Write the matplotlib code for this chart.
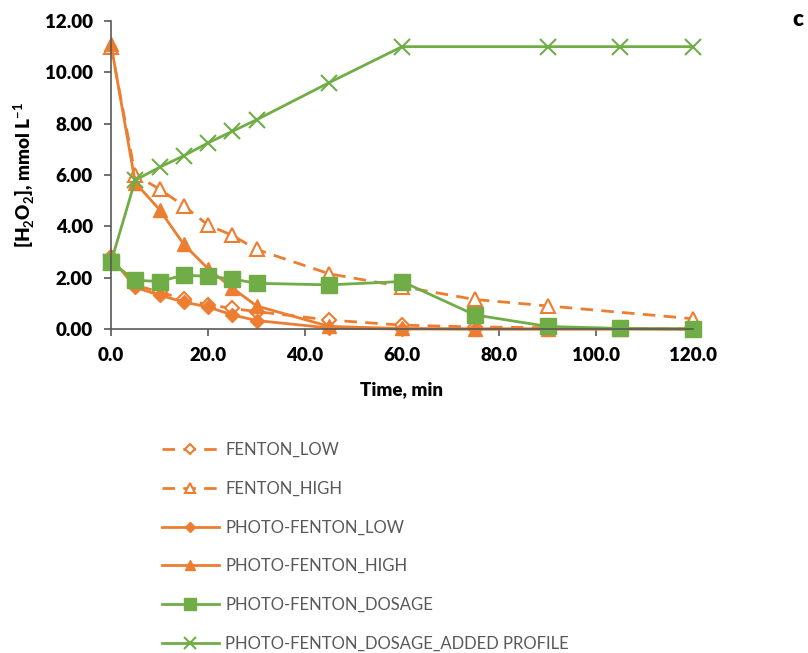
import matplotlib
matplotlib.use("Agg")
import matplotlib.pyplot as plt
import numpy as np

plt.rcParams['font.family'] = ['Lato', 'DejaVu Sans']
plt.rcParams['mathtext.fontset'] = 'custom'
plt.rcParams['mathtext.rm'] = 'Lato'
plt.rcParams['mathtext.bf'] = 'Lato:bold'

# time points, min
t_all = [0, 5, 10, 15, 20, 25, 30, 45, 60, 75, 90, 105, 120]
t_fh = [0, 5, 10, 15, 20, 25, 30, 45, 60, 75, 90, 120]
t_add = [0, 5, 10, 15, 20, 25, 30, 45, 60, 90, 105, 120]

fenton_low = [2.8, 1.7, 1.45, 1.15, 0.95, 0.8, 0.68, 0.35, 0.15, 0.08, 0.05, 0.02, 0.0]
fenton_high = [11.0, 6.0, 5.45, 4.8, 4.05, 3.65, 3.1, 2.15, 1.65, 1.15, 0.9, 0.4]
pf_low = [2.8, 1.62, 1.32, 1.05, 0.86, 0.55, 0.33, 0.04, 0.0, 0.0, 0.0, 0.0, 0.0]
pf_high = [11.1, 5.7, 4.65, 3.3, 2.35, 1.6, 0.9, 0.1, 0.02, 0.0, 0.0, 0.0, 0.0]
pf_dosage = [2.6, 1.9, 1.85, 2.1, 2.05, 1.95, 1.78, 1.72, 1.85, 0.55, 0.1, 0.02, 0.0]
pf_added = [2.6, 5.8, 6.3, 6.75, 7.25, 7.7, 8.15, 9.6, 11.0, 11.0, 11.0, 11.0]

orange = "#ED7D31"
green = "#70AD47"

fig = plt.figure(figsize=(8.08, 6.53), dpi=100)
ax = fig.add_axes([111/808, 1-329/653, (693-111)/808, (329-21)/653])

lw = 2.0
dash = (0, (4.5, 3))
ax.plot(t_all, fenton_low, color=orange, lw=lw, ls=dash, marker="D", ms=7,
        mfc="white", mec=orange, mew=1.5, label="FENTON_LOW", clip_on=False)
ax.plot(t_fh, fenton_high, color=orange, lw=lw, ls=dash, marker="^", ms=10,
        mfc="white", mec=orange, mew=1.5, label="FENTON_HIGH", clip_on=False)
ax.plot(t_all, pf_low, color=orange, lw=lw, marker="D", ms=7,
        label="PHOTO-FENTON_LOW", clip_on=False)
ax.plot(t_all, pf_high, color=orange, lw=lw, marker="^", ms=10,
        label="PHOTO-FENTON_HIGH", clip_on=False)
ax.plot(t_all, pf_dosage, color=green, lw=lw, marker="s", ms=11,
        label="PHOTO-FENTON_DOSAGE", clip_on=False)
ax.plot(t_add, pf_added, color=green, lw=lw, marker="x", ms=11, mew=1.5,
        label="PHOTO-FENTON_DOSAGE_ADDED PROFILE", clip_on=False)

ax.set_xlim(0, 120)
ax.set_ylim(0, 12)
ax.set_xticks(np.arange(0, 121, 20))
ax.set_yticks(np.arange(0, 12.1, 2))
ax.set_xticklabels([f"{v:.1f}" for v in np.arange(0, 121, 20)])
ax.set_yticklabels([f"{v:.2f}" for v in np.arange(0, 12.1, 2)])
for s in ["top", "right"]:
    ax.spines[s].set_visible(False)
for s in ["left", "bottom"]:
    ax.spines[s].set_color("#595959")
    ax.spines[s].set_linewidth(1.2)
ax.tick_params(direction="out", length=5, width=1.2, color="#595959",
               labelsize=13.5, pad=8)
for lab in ax.get_xticklabels() + ax.get_yticklabels():
    lab.set_fontweight("heavy")

ax.set_xlabel("Time, min", fontsize=13.5, fontweight="heavy", labelpad=12)
ax.set_ylabel("[H$_\\mathbf{2}$O$_\\mathbf{2}$], mmol L$^{\\mathbf{-1}}$", fontsize=13.5,
              fontweight="heavy", labelpad=6)

fig.text(792/808, 1-20/653, "c", fontsize=16, fontweight="heavy", ha="left", va="center")

leg = fig.legend(loc="upper left", bbox_to_anchor=(147/808, 1-427/653), frameon=False,
                 fontsize=12, labelspacing=1.36, handlelength=3.4, handletextpad=0.4,
                 markerscale=0.75)
for txt in leg.get_texts():
    txt.set_color("#595959")

fig.savefig("out.png", dpi=100)
